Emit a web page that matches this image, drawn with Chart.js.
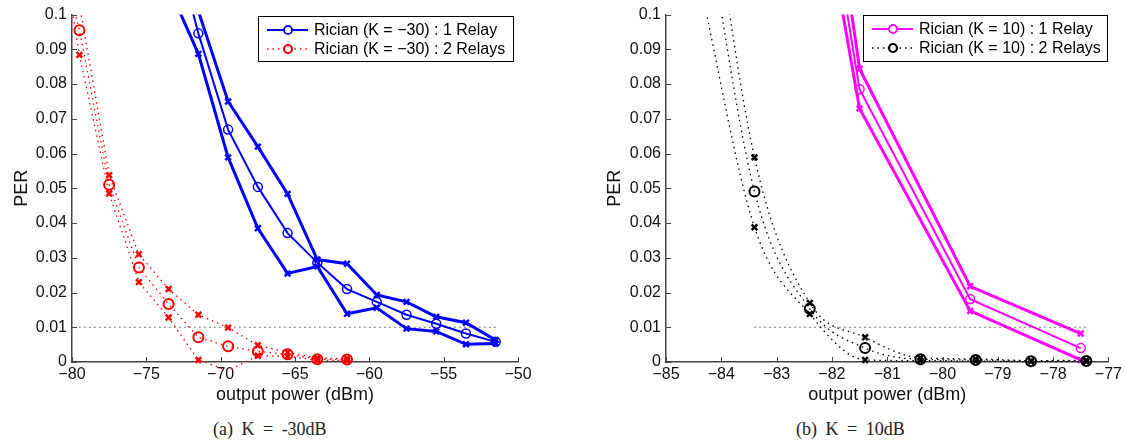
<!DOCTYPE html>
<html>
<head>
<meta charset="utf-8">
<script src="https://cdn.jsdelivr.net/npm/chart.js@4"></script>
<style>
  body { margin: 0; background: #fff; width: 1125px; height: 444px; overflow: hidden; position: relative; }
  canvas { position: absolute; top: 0; }
  #cA { left: 0; }
  #cB { left: 560px; }
  .cap { position: absolute; top: 419px; font-family: "Liberation Serif", "Times New Roman", serif;
         font-size: 18px; color: #222; word-spacing: 4px; white-space: nowrap; }
</style>
</head>
<body>
<canvas id="cA" width="560" height="415"></canvas>
<canvas id="cB" width="565" height="415"></canvas>
<div class="cap" style="left:213px">(a) K = -30dB</div>
<div class="cap" style="left:796px">(b) K = 10dB</div>
<script>
// tick labels
const xTicksA = [-80, -75, -70, -65, -60, -55, -50];
const xTicksB = [-85, -84, -83, -82, -81, -80, -79, -78, -77];
const yTicks = [0, 0.01, 0.02, 0.03, 0.04, 0.05, 0.06, 0.07, 0.08, 0.09, 0.1];

// (a) K = -30 dB, 1 relay (blue): mean and upper / lower bounds
const powerBlue = [-73.5, -71.5, -69.5, -67.5, -65.5, -63.5, -61.5, -59.5, -57.5, -55.5, -53.5, -51.5];
const blueMean  = [0.127, 0.0946, 0.0669, 0.0504, 0.0371, 0.0286, 0.021, 0.0173, 0.0136, 0.011, 0.0082, 0.0058];
const blueUpper = [0.14, 0.101, 0.075, 0.062, 0.0484, 0.0295, 0.0283, 0.0193, 0.0173, 0.013, 0.0113, 0.0063];
const blueLower = [0.108, 0.0887, 0.0589, 0.0385, 0.0255, 0.0275, 0.0139, 0.0156, 0.0096, 0.0088, 0.0051, 0.0053];

// (a) K = -30 dB, 2 relays (red)
const powerRed = [-81.5, -79.5, -77.5, -75.5, -73.5, -71.5, -69.5, -67.5, -65.5, -63.5, -61.5];
const redMean  = [0.13, 0.0955, 0.051, 0.0272, 0.0167, 0.0071, 0.0045, 0.0031, 0.0022, 0.0008, 0.0007];
const redUpper = [0.135, 0.103, 0.0538, 0.031, 0.021, 0.0136, 0.0099, 0.0048, 0.0028, 0.0011, 0.001];
const redLower = [0.14, 0.0884, 0.0485, 0.023, 0.0128, 0.0006, -0.0025, 0.0018, 0.0016, 0.0005, 0.0004];

// (b) K = 10 dB, 1 relay (magenta)
const powerMag = [-83.5, -81.5, -79.5, -77.5];
const magMean  = [0.274, 0.0785, 0.0181, 0.004];
const magUpper = [0.307, 0.0844, 0.0218, 0.0082];
const magLower = [0.253, 0.073, 0.0147, 0.0006];

// (b) K = 10 dB, 2 relays (black)
const powerBlk = [-84.4, -83.4, -82.4, -81.4, -80.4, -79.4, -78.4, -77.4];
const blkMean  = [0.14, 0.0491, 0.0153, 0.004, 0.0008, 0.0006, 0.0002, 0.0003];
const blkUpper = [0.16, 0.0589, 0.017, 0.0071, 0.0012, 0.0009, 0.0004, 0.0005];
const blkLower = [0.11, 0.0388, 0.0138, 0.0006, 0.0004, 0.0003, 0.0001, 0.0001];

// 1% PER target line
const target = 0.01;
const targetA = [-79.5, -51.5];
const targetB = [-83.4, -77.4];

const pts = (xs, ys) => xs.map((x, i) => ({ x: x, y: ys[i] }));
const minus = s => String(s).replace('-', '\u2212');
const FONT = '"Liberation Sans", Arial, Helvetica, sans-serif';

function series(xs, ys, color, kind, dotted) {
  const mean = kind === 'mean';
  const curved = dotted && color === '#000';
  return {
    data: pts(xs, ys),
    showLine: true,
    borderColor: color,
    backgroundColor: 'rgba(0,0,0,0)',
    borderWidth: dotted ? 1.3 : (mean ? 2 : 3),
    borderDash: dotted ? [1.5, 4] : [],
    pointStyle: mean ? 'circle' : 'crossRot',
    pointRadius: mean ? (dotted ? 5 : 4.5) : 4,
    pointBorderWidth: mean ? (dotted ? 2 : 1.5) : 2.5,
    pointBorderColor: color,
    pointBackgroundColor: 'rgba(0,0,0,0)',
    tension: curved ? 0.4 : 0,
    cubicInterpolationMode: curved ? 'monotone' : 'default',
    capBezierPoints: false,
    clip: { left: 0, top: 0, right: 10, bottom: dotted ? 8 : 6 }
  };
}

function targetLine(xs) {
  return {
    data: xs.map(x => ({ x: x, y: target })),
    showLine: true, borderColor: '#000', borderWidth: 1, borderDash: [1, 4],
    pointRadius: 0, clip: 0
  };
}

// inward tick marks, MATLAB style
const inTicks = {
  id: 'inTicks',
  afterDatasetsDraw(chart) {
    const { ctx, chartArea: a, scales: { x, y } } = chart;
    ctx.save();
    ctx.strokeStyle = '#444';
    ctx.lineWidth = 1;
    ctx.beginPath();
    x.ticks.forEach(t => {
      const p = Math.round(x.getPixelForValue(t.value)) + 0.5;
      ctx.moveTo(p, a.bottom); ctx.lineTo(p, a.bottom - 5);
    });
    y.ticks.forEach(t => {
      const p = Math.round(y.getPixelForValue(t.value)) + 0.5;
      ctx.moveTo(a.left, p); ctx.lineTo(a.left + 5, p);
    });
    ctx.stroke();
    ctx.restore();
  }
};

// legend box inside the plot
const boxLegend = {
  id: 'boxLegend',
  afterDraw(chart, args, o) {
    const ctx = chart.ctx;
    ctx.save();
    ctx.fillStyle = '#fff';
    ctx.fillRect(o.x, o.y, o.w, o.h);
    ctx.strokeStyle = '#000';
    ctx.lineWidth = 1;
    ctx.strokeRect(o.x + 0.5, o.y + 0.5, o.w, o.h);
    o.items.forEach((it, i) => {
      const yy = o.y + 14 + i * 19;
      ctx.strokeStyle = it.color;
      ctx.lineWidth = it.dotted ? 1.3 : 2;
      ctx.setLineDash(it.dotted ? [1.5, 4] : []);
      ctx.beginPath();
      ctx.moveTo(o.x + 9, yy); ctx.lineTo(o.x + 50, yy);
      ctx.stroke();
      ctx.setLineDash([]);
      ctx.lineWidth = it.dotted ? 2.2 : 1.8;
      ctx.fillStyle = '#fff';
      ctx.beginPath();
      ctx.arc(o.x + 30, yy, 4, 0, Math.PI * 2);
      ctx.fill(); ctx.stroke();
      ctx.fillStyle = '#000';
      ctx.font = '16px ' + FONT;
      ctx.textBaseline = 'middle';
      ctx.fillText(it.text, o.x + 56, yy + 1);
    });
    ctx.restore();
  }
};

function options(xmin, xmax, xticks, yWidth, titlePad, padRight, legend) {
  return {
    responsive: false,
    animation: false,
    layout: { padding: { left: 0, right: padRight, top: 9, bottom: 0 } },
    plugins: { legend: { display: false }, tooltip: { enabled: false }, boxLegend: legend },
    scales: {
      x: {
        type: 'linear', min: xmin, max: xmax,
        afterBuildTicks: s => { s.ticks = xticks.map(v => ({ value: v })); },
        afterFit: s => { s.height = 53; },
        grid: { display: false, drawTicks: false },
        border: { display: true, color: '#444', width: 1.5 },
        ticks: { color: '#111', font: { family: FONT, size: 16 }, padding: 3,
                 maxRotation: 0, autoSkip: false, callback: v => minus(v) },
        title: { display: true, text: 'output power (dBm)', color: '#111',
                 font: { family: FONT, size: 18 }, padding: { top: 0, bottom: 9 } }
      },
      y: {
        type: 'linear', min: 0, max: 0.1,
        afterBuildTicks: s => { s.ticks = yTicks.map(v => ({ value: v })); },
        afterFit: s => { s.width = yWidth; },
        grid: { display: false, drawTicks: false },
        border: { display: true, color: '#444', width: 1.5 },
        ticks: { color: '#111', font: { family: FONT, size: 16 }, padding: 5,
                 callback: v => v === 0 ? '0' : v.toFixed(2).replace(/0$/, '') },
        title: { display: true, text: 'PER', color: '#111',
                 font: { family: FONT, size: 18 }, padding: { top: titlePad, bottom: 0 } }
      }
    }
  };
}

const BLUE = '#0000ff', RED = '#ff0000', MAG = '#ff00ff', BLK = '#000';

new Chart(document.getElementById('cA'), {
  type: 'scatter',
  data: {
    datasets: [
      targetLine(targetA),
      series(powerRed, redUpper, RED, 'bound', true),
      series(powerRed, redMean, RED, 'mean', true),
      series(powerRed, redLower, RED, 'bound', true),
      series(powerBlue, blueUpper, BLUE, 'bound', false),
      series(powerBlue, blueMean, BLUE, 'mean', false),
      series(powerBlue, blueLower, BLUE, 'bound', false)
    ]
  },
  options: options(-80, -50, xTicksA, 72, 11, 42, {
    x: 258, y: 16, w: 255, h: 45,
    items: [
      { text: 'Rician (K = \u221230) : 1 Relay', color: BLUE, dotted: false },
      { text: 'Rician (K = \u221230) : 2 Relays', color: RED, dotted: true }
    ]
  }),
  plugins: [inTicks, boxLegend]
});

new Chart(document.getElementById('cB'), {
  type: 'scatter',
  data: {
    datasets: [
      targetLine(targetB),
      series(powerBlk, blkUpper, BLK, 'bound', true),
      series(powerBlk, blkMean, BLK, 'mean', true),
      series(powerBlk, blkLower, BLK, 'bound', true),
      series(powerMag, magUpper, MAG, 'bound', false),
      series(powerMag, magMean, MAG, 'mean', false),
      series(powerMag, magLower, MAG, 'bound', false)
    ]
  },
  options: options(-85, -77, xTicksB, 106, 44, 12, {
    x: 303, y: 15, w: 244, h: 46,
    items: [
      { text: 'Rician (K = 10) : 1 Relay', color: MAG, dotted: false },
      { text: 'Rician (K = 10) : 2 Relays', color: BLK, dotted: true }
    ]
  }),
  plugins: [inTicks, boxLegend]
});
</script>
</body>
</html>
